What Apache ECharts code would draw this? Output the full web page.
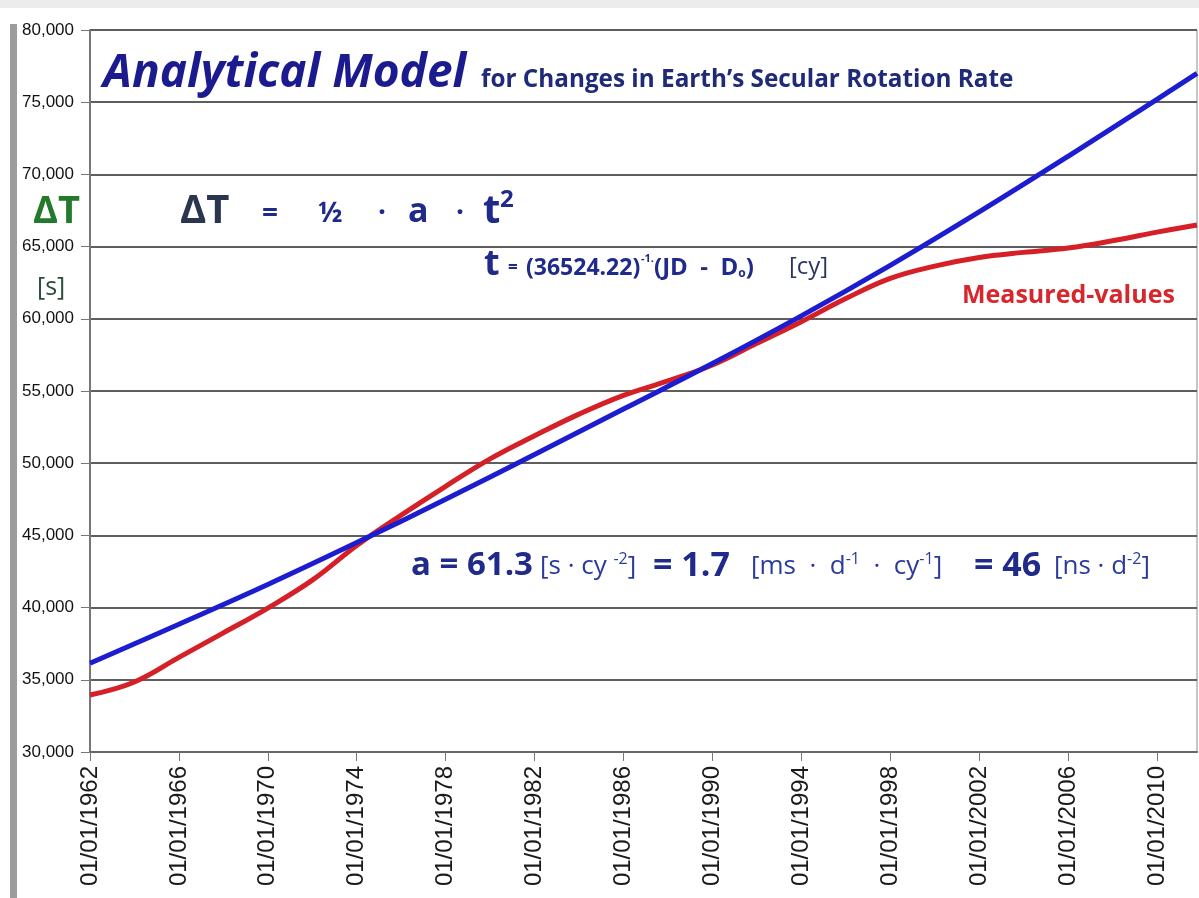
<!DOCTYPE html>
<html>
<head>
<meta charset="utf-8">
<title>Analytical Model</title>
<script src="https://cdn.jsdelivr.net/npm/echarts@6/dist/echarts.min.js"></script>
<style>
  html, body { margin: 0; padding: 0; background: #fff; }
  #chart { width: 1199px; height: 898px; }
</style>
</head>
<body>
<div id="chart"></div>
<script>
// 模型曲线 (ΔT = ½·a·t²)
var modelYears  = [1962, 1966, 1970, 1974, 1978, 1982, 1986, 1990, 1994, 1998, 2002, 2006, 2010, 2011.8];
var modelValues = [36150, 38850, 41600, 44500, 47500, 50600, 53750, 56900, 60200, 63700, 67400, 71250, 75200, 77000];

// 实测值
var measuredYears  = [1962, 1964, 1966, 1968, 1970, 1972, 1974, 1976, 1978, 1980, 1982, 1984, 1986,
                      1988, 1990, 1992, 1994, 1996, 1998, 2000, 2002, 2004, 2006, 2008, 2010, 2011.8];
var measuredValues = [33950, 34850, 36550, 38250, 39970, 41900, 44300, 46400, 48400, 50300, 51900, 53400, 54700,
                      55700, 56800, 58300, 59800, 61400, 62800, 63650, 64250, 64600, 64900, 65400, 66000, 66500];

var xMin = 1962, xMax = 2011.8, xStep = 4;
var yMin = 30000, yMax = 80000, yStep = 5000;

function pairs(xs, ys) {
    var out = [];
    for (var i = 0; i < xs.length; i++) out.push([xs[i], ys[i]]);
    return out;
}

function addCommas(v) {
    return String(v).replace(/\B(?=(\d{3})+(?!\d))/g, ',');
}

var NAVY = '#1f2a8a';
var UNIT = '#2b3b9c';
var FONT = '"Open Sans", "DejaVu Sans", sans-serif';

// 文字注释
function txt(x, y, text, size, weight, color, extra) {
    var st = {
        text: text,
        fontSize: size,
        fontWeight: weight || 'bold',
        fontFamily: FONT,
        fill: color || NAVY,
        verticalAlign: 'middle',
        textVerticalAlign: 'middle'
    };
    if (extra) for (var k in extra) st[k] = extra[k];
    return { type: 'text', x: x, y: y, z: 10, style: st };
}

function tok(size, weight, color, padding) {
    var t = { fontSize: size, fontWeight: weight, fontFamily: FONT, fill: color || NAVY, color: color || NAVY,
              verticalAlign: 'middle' };
    if (padding) t.padding = padding;
    return t;
}

function richText(x, y, text, rich) {
    return { type: 'text', x: x, y: y, z: 10,
             style: { text: text, rich: rich, verticalAlign: 'middle', textVerticalAlign: 'middle' } };
}

// 单位（带上标）
var unitRich = {
    n: tok(26, 'normal', UNIT),
    s: tok(16, 'normal', UNIT, [0, 0, 16, 0])
};

// (JD - Do) 下标
var jdRich = {
    n: tok(24, 'bold'),
    o: tok(12, 'bold', NAVY, [12, 0, 0, 0])
};

var graphics = [
    { type: 'rect', shape: { x: 0, y: 0, width: 1199, height: 8 }, style: { fill: '#ececec' }, z: 1 },
    { type: 'rect', shape: { x: 10, y: 24, width: 7, height: 874 }, style: { fill: '#9c9c9c' }, z: 1 },

    txt(103, 74, 'Analytical Model', 46, 'bold', '#1b1b8f', { fontStyle: 'italic' }),
    txt(481, 80, 'for Changes in Earth\u2019s Secular Rotation Rate', 24.3, 'bold', '#1f2a78'),

    txt(33, 212, '\u0394T', 38, 'bold', '#237a2a'),
    txt(37, 288, '[s]', 25, 'normal', '#2b4d3a'),

    // ΔT = ½ · a · t²
    txt(180, 212, '\u0394T', 40, 'bold', '#2a3550'),
    txt(262, 214, '=', 28, 'bold'),
    txt(318, 214, '\u00bd', 28, 'bold'),
    txt(378, 214, '\u00b7', 28, 'bold'),
    txt(408, 212, 'a', 34, 'bold'),
    txt(456, 214, '\u00b7', 28, 'bold'),
    txt(483, 212, 't', 40, 'bold'),
    txt(500, 200, '2', 24, 'bold'),

    // t = (36524.22)^-1 · (JD - Do) [cy]
    txt(484, 265, 't', 36, 'bold'),
    txt(508, 268, '=', 17, 'bold'),
    txt(526, 268, '(36524.22)', 23, 'bold'),
    txt(641, 259, '-1.', 11, 'bold'),
    richText(654, 268, '{n|(JD  -  D}{o|o}{n|)}', jdRich),
    txt(789, 267, '[cy]', 24, 'normal', '#2a3560'),

    // a = 61.3 [s·cy^-2] = 1.7 [ms·d^-1·cy^-1] = 46 [ns·d^-2]
    txt(411, 566, 'a = 61.3', 33, 'bold'),
    richText(540, 567, '{n|[s \u00b7 cy }{s|-2}{n|]}', unitRich),
    txt(653, 566, '= 1.7', 34, 'bold'),
    richText(751, 567, '{n|[ms  \u00b7  d}{s|-1}{n|  \u00b7  cy}{s|-1}{n|]}', unitRich),
    txt(974, 566, '= 46', 34, 'bold'),
    richText(1054, 567, '{n|[ns \u00b7 d}{s|-2}{n|]}', unitRich),

    txt(962, 296, 'Measured-values', 25, 'bold', '#d8262d')
];

var chart = echarts.init(document.getElementById('chart'));

chart.setOption({
    backgroundColor: '#ffffff',
    animation: false,
    grid: {
        left: 90, right: 2, top: 30, bottom: 146,
        show: true, borderColor: '#8c8c8c', borderWidth: 1
    },
    xAxis: {
        type: 'value',
        min: xMin, max: xMax, interval: xStep,
        axisLine: { show: true, onZero: false, lineStyle: { color: '#666', width: 2 } },
        axisTick: { show: true, length: 9, lineStyle: { color: '#777', width: 1 } },
        axisLabel: {
            rotate: 90, margin: 14, fontSize: 24, color: '#1a1a1a',
            fontFamily: '"Liberation Sans", Arial, sans-serif',
            showMaxLabel: false,
            formatter: function (v) {
                var d = Math.round((v - xMin) * 1000) / 1000;
                return (d % xStep === 0) ? '01/01/' + Math.round(v) : '';
            }
        },
        splitLine: { show: false }
    },
    yAxis: {
        type: 'value',
        min: yMin, max: yMax, interval: yStep,
        axisLine: { show: true, lineStyle: { color: '#777', width: 2 } },
        axisTick: { show: true, length: 9, lineStyle: { color: '#777', width: 1 } },
        axisLabel: {
            margin: 16, fontSize: 17, color: '#111',
            fontFamily: '"Liberation Sans", Arial, sans-serif',
            formatter: function (v) { return addCommas(v); }
        },
        splitLine: { show: true, lineStyle: { color: '#5e5e5e', width: 2 } }
    },
    series: [
        {
            name: 'Measured-values',
            type: 'line',
            data: pairs(measuredYears, measuredValues),
            smooth: 0.4,
            showSymbol: false,
            lineStyle: { color: '#d42026', width: 5 },
            z: 3
        },
        {
            name: 'Analytical Model',
            type: 'line',
            data: pairs(modelYears, modelValues),
            smooth: 0.4,
            showSymbol: false,
            lineStyle: { color: '#1c1cd0', width: 5 },
            z: 4
        }
    ],
    graphic: graphics
});
</script>
</body>
</html>
